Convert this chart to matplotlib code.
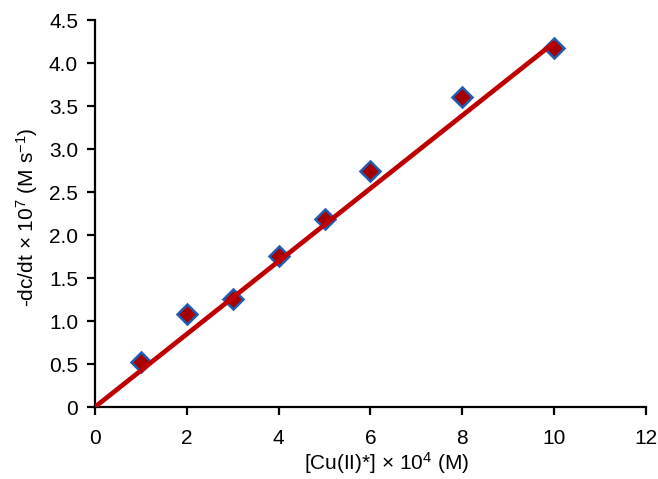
import matplotlib
matplotlib.use("Agg")
import matplotlib.pyplot as plt

plt.rcParams["font.family"] = ["Liberation Sans", "DejaVu Sans"]
plt.rcParams["mathtext.fontset"] = "custom"
plt.rcParams["mathtext.rm"] = "Liberation Sans"
plt.rcParams["mathtext.default"] = "regular"

# measured points
conc = [1, 2, 3, 4, 5, 6, 8, 10]
rate = [0.52, 1.08, 1.26, 1.76, 2.19, 2.74, 3.61, 4.18]

# linear trendline through origin
trend_x = [0, 10]
trend_y = [0, 4.24]

xticks = [0, 2, 4, 6, 8, 10, 12]
yticks = [0, 0.5, 1.0, 1.5, 2.0, 2.5, 3.0, 3.5, 4.0, 4.5]
ytick_labels = ["0", "0.5", "1.0", "1.5", "2.0", "2.5", "3.0", "3.5", "4.0", "4.5"]

fig = plt.figure(figsize=(6.58, 4.79), dpi=100)
ax = fig.add_axes([0.144, 0.150, 0.838, 0.808])

ax.plot(conc, rate, linestyle="none", marker="D", markersize=10,
        markerfacecolor="#a50000", markeredgecolor="#1f5cb4",
        markeredgewidth=1.8, zorder=2)
ax.plot(trend_x, trend_y, color="#c00000", linewidth=3.4,
        solid_capstyle="butt", zorder=3)

ax.set_xlim(0, 12)
ax.set_ylim(0, 4.5)
ax.set_xticks(xticks)
ax.set_yticks(yticks)
ax.set_yticklabels(ytick_labels)

for side in ("top", "right"):
    ax.spines[side].set_visible(False)
for side in ("left", "bottom"):
    ax.spines[side].set_linewidth(1.6)
ax.tick_params(direction="out", length=5.5, width=1.6, labelsize=15)
ax.tick_params(axis="y", pad=6.5)
ax.tick_params(axis="x", pad=10)

ax.set_xlabel("[Cu(II)*] × 10$^{4}$ (M)", fontsize=15)
ax.xaxis.set_label_coords(0.53, -0.112)
ax.set_ylabel("-dc/dt × 10$^{7}$ (M s$^{-1}$)", fontsize=15)
ax.yaxis.set_label_coords(-0.1, 0.49)

fig.savefig("out.png", dpi=100, facecolor="white")
